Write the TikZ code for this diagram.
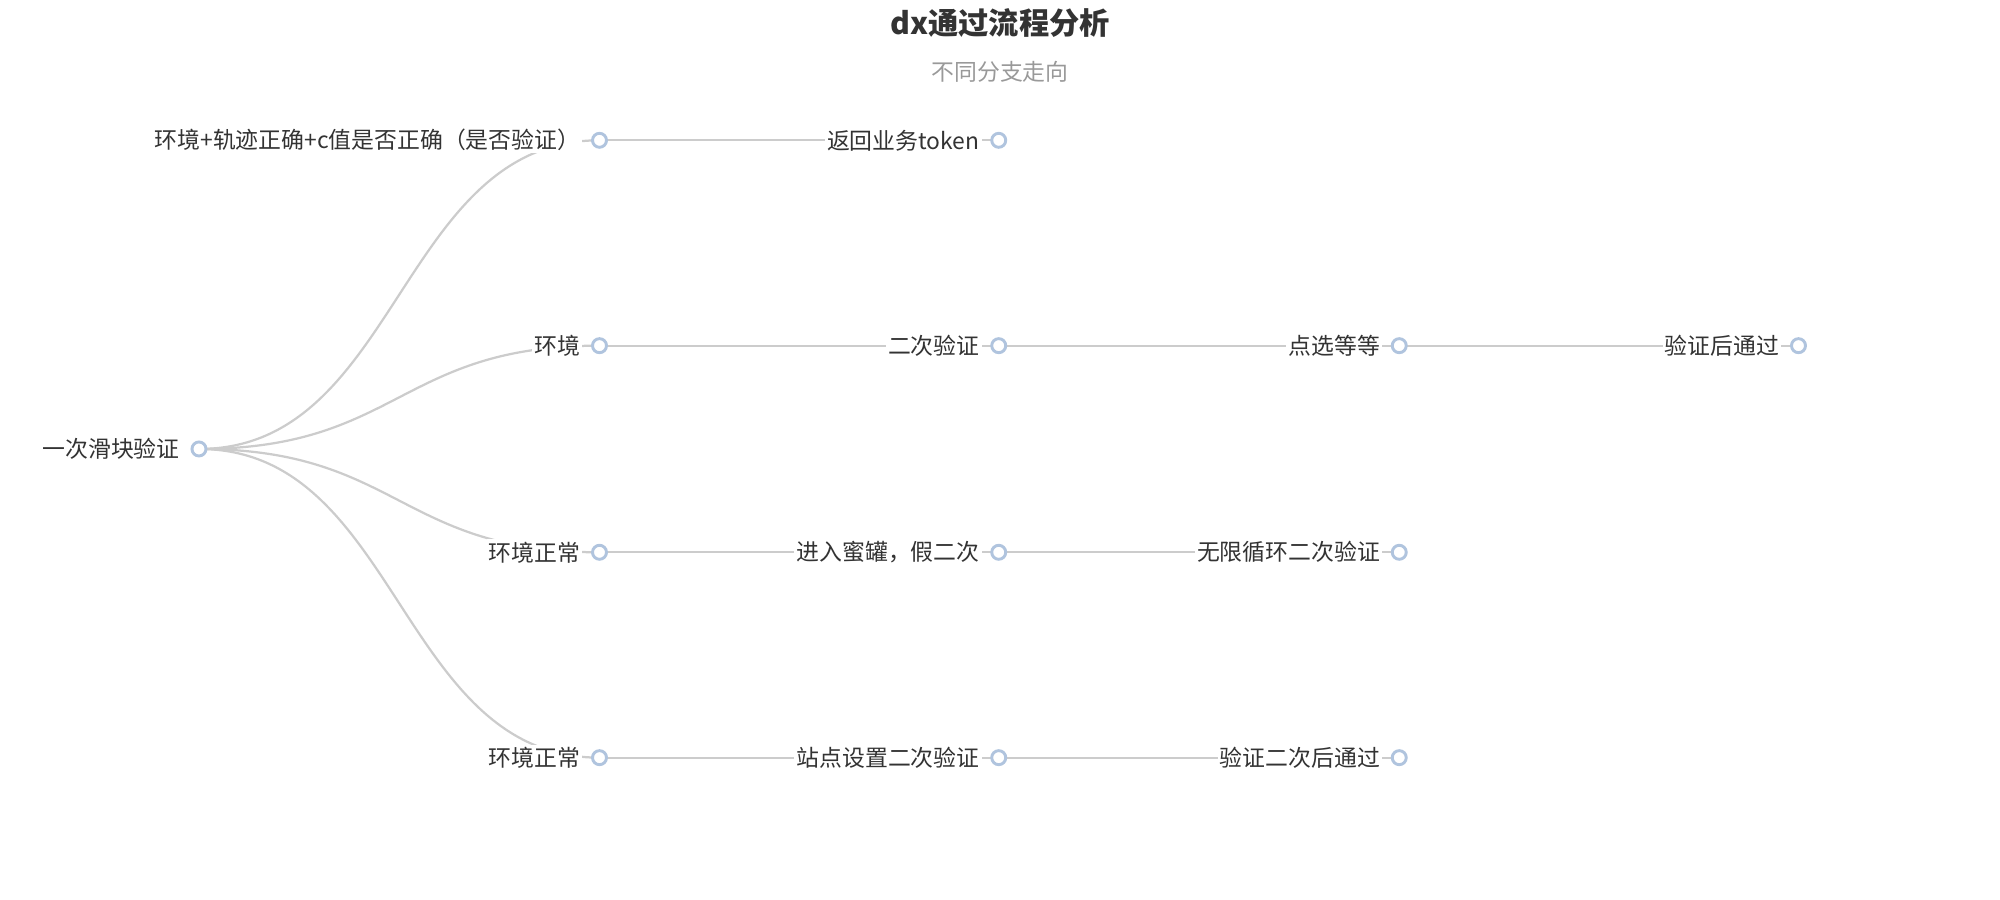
\documentclass[tikz,border=0pt]{standalone}
\usepackage{fontspec}
\setmainfont{Noto Sans CJK SC}
\usetikzlibrary{calc}
\begin{document}
\begin{tikzpicture}[x=0.02cm,y=-0.02cm,
  dot/.style={circle,draw={rgb,255:red,176;green,196;blue,222},line width=1.3pt,fill=white,minimum size=0.22cm,inner sep=0pt},
  lbl/.style={anchor=east,fill=white,inner sep=1pt,font=\fontsize{10.2}{12}\selectfont,text={rgb,255:red,51;green,51;blue,51}},
  edge/.style={draw={rgb,255:red,204;green,204;blue,204},line width=1pt}]
\useasboundingbox (0,0) rectangle (1568,705);
\node (title) at (784,18) {\fontsize{13.5}{16}\selectfont\bfseries\color[rgb]{0.2,0.2,0.2} dx通过流程分析};
\node (sub) at (784,56) {\fontsize{10.2}{12}\selectfont\color[rgb]{0.6,0.6,0.6} 不同分支走向};
\coordinate (r) at (156,352);
\foreach \n/\x/\y in {a1/470/110,a2/470/271,a3/470/433,a4/470/594,
  b1/783/110,b2/783/271,b3/783/433,b4/783/594,c2/1097/271,c3/1097/433,c4/1097/594,d2/1410/271}
  \coordinate (\n) at (\x,\y);
% edges
\foreach \n in {a1,a2,a3,a4}
  \draw[edge] (r) .. controls (313,352) and ($(\n)+(-157,0)$) .. (\n);
\draw[edge] (a1)--(b1); \draw[edge] (a2)--(b2)--(c2)--(d2);
\draw[edge] (a3)--(b3)--(c3); \draw[edge] (a4)--(b4)--(c4);
% labels
\foreach \n/\t in {r/一次滑块验证,a1/{环境+轨迹正确+c值是否正确（是否验证）},a2/环境/轨迹/ip异常,a3/环境正常/c值异常,a4/环境正常/c值正常,
  b1/返回业务token,b2/二次验证,b3/{进入蜜罐，假二次},b4/站点设置二次验证,c2/点选等等,c3/无限循环二次验证,c4/验证二次后通过,d2/验证后通过}
  \node[lbl] (l\n) at ($(\n)+(-13,0)$) {\t};
\foreach \n in {r,a1,a2,a3,a4,b1,b2,b3,b4,c2,c3,c4,d2}
  \node[dot] (d\n) at (\n) {};
\end{tikzpicture}
\end{document}
